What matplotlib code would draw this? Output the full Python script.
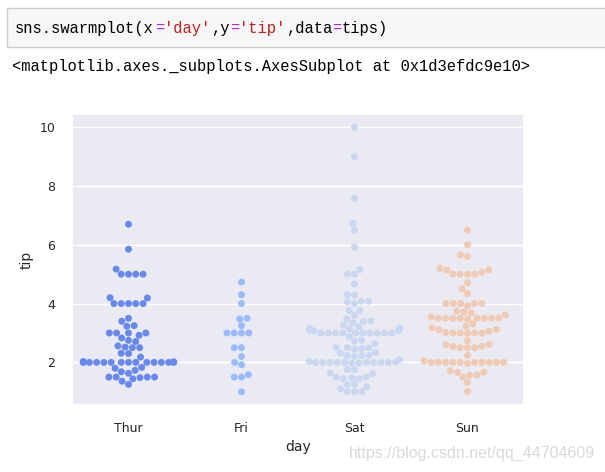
import matplotlib
matplotlib.use("Agg")
import matplotlib.pyplot as plt
import matplotlib.patches as mpatches
import seaborn as sns
import pandas as pd

# tips per day (tips dataset)
days = ["Thur", "Fri", "Sat", "Sun"]
tip_thur = [4.0, 3.0, 2.71, 3.0, 3.4, 1.83, 5.0, 2.03, 5.17, 2.0, 4.0, 5.85, 3.0,
            1.5, 1.8, 2.92, 2.31, 1.68, 2.5, 2.0, 2.52, 4.2, 1.48, 2.0, 2.0, 2.18,
            1.5, 2.83, 1.5, 2.0, 3.25, 1.25, 2.0, 2.0, 2.0, 2.75, 3.5, 6.7, 5.0,
            5.0, 2.3, 1.5, 1.36, 1.63, 1.73, 2.0, 4.19, 2.56, 2.02, 4.0, 1.44,
            2.0, 5.0, 2.0, 2.0, 4.0, 2.01, 2.0, 2.5, 4.0, 3.23, 3.0]
tip_fri = [3.0, 3.5, 1.0, 4.3, 3.25, 4.73, 4.0, 1.5, 3.0, 1.5, 2.5, 3.0,
           2.2, 3.48, 1.92, 3.0, 1.58, 2.5, 2.0]
tip_sat = [3.35, 4.08, 2.75, 2.23, 7.58, 3.18, 2.34, 2.0, 2.0, 4.3, 3.0, 1.45,
           2.5, 3.0, 2.45, 3.27, 3.6, 2.0, 3.07, 2.31, 5.0, 2.24, 3.0, 1.5, 1.76,
           6.73, 3.21, 2.0, 1.98, 3.76, 2.64, 3.15, 2.47, 1.0, 2.01, 2.09, 1.97,
           3.0, 3.14, 5.0, 2.2, 1.25, 3.08, 2.5, 3.48, 4.08, 1.64, 4.06, 4.29,
           3.76, 4.0, 3.0, 1.0, 1.61, 2.0, 10.0, 3.16, 3.41, 3.0, 2.03, 2.23, 2.0,
           5.16, 9.0, 2.5, 6.5, 1.1, 3.0, 1.5, 1.44, 3.09, 3.0, 2.72, 2.88, 2.0,
           3.0, 3.39, 1.47, 3.0, 1.25, 1.0, 1.17, 4.67, 5.92, 2.0, 2.0, 1.75]
tip_sun = [1.01, 1.66, 3.5, 3.31, 3.61, 4.71, 2.0, 3.12, 1.96, 3.23, 1.71, 5.0,
           1.57, 3.0, 3.02, 3.92, 1.67, 3.71, 3.5, 2.54, 3.06, 1.32, 5.6, 3.0,
           5.0, 6.0, 2.05, 3.0, 2.5, 2.6, 5.2, 1.56, 4.34, 3.51, 4.0, 2.55, 4.0,
           3.5, 5.07, 2.5, 2.0, 2.74, 2.0, 2.0, 5.14, 5.0, 3.75, 2.61, 2.0, 3.5,
           2.5, 2.0, 2.0, 3.0, 3.48, 2.24, 4.5, 5.15, 3.18, 4.0, 3.11, 2.0, 2.0,
           4.0, 3.55, 3.68, 5.65, 3.5, 6.5, 3.0, 5.0, 3.5, 2.0, 3.5, 4.0, 1.5]

tips = pd.DataFrame({
    "day": ["Thur"] * len(tip_thur) + ["Fri"] * len(tip_fri)
           + ["Sat"] * len(tip_sat) + ["Sun"] * len(tip_sun),
    "tip": tip_thur + tip_fri + tip_sat + tip_sun,
})
tips["day"] = pd.Categorical(tips["day"], categories=days, ordered=True)

sns.set_theme(style="darkgrid")
plt.rcParams['font.family'] = ['DejaVu Sans']

W, H = 605, 472
fig = plt.figure(figsize=(W / 100, H / 100), dpi=100)


def px(x, y):
    """pixel coords (from top-left) -> figure fraction"""
    return x / W, 1 - y / H


# ---- notebook code cell ----
x0, y0 = px(7, 47)
fig.patches.append(mpatches.Rectangle((x0, y0), (W - 6) / W, 39 / H,
                                      transform=fig.transFigure,
                                      facecolor="#f7f7f7", edgecolor="#cfcfcf",
                                      linewidth=1))

code_parts = [("sns.swarmplot(x", "#000000"), ("=", "#aa22ff"), ("'day'", "#ba2121"),
              (",y", "#000000"), ("=", "#aa22ff"), ("'tip'", "#ba2121"),
              (",data", "#000000"), ("=", "#aa22ff"), ("tips)", "#000000")]
fs_code = 11.2
cw = 0.6 * fs_code * 100 / 72  # char width in px
cx = 15
for txt, col in code_parts:
    fig.text(*px(cx, 28), txt, color=col, fontsize=fs_code,
             family="Liberation Mono", va="center", ha="left")
    cx += cw * len(txt)

fig.text(*px(12, 67), "<matplotlib.axes._subplots.AxesSubplot at 0x1d3efdc9e10>",
         fontsize=fs_code, family="Liberation Mono", va="center", ha="left",
         color="#000000")

# ---- swarm plot ----
l, b = px(72, 405)
ax = fig.add_axes([l, b, (524 - 72) / W, (405 - 114) / H])
palette = ["#6788ee", "#9abbff", "#c9d7f0", "#f1cab3"]
sns.swarmplot(x="day", y="tip", hue="day", data=tips, palette=palette,
              legend=False, size=5, ax=ax)
ax.set_yticks([2, 4, 6, 8, 10])
ax.tick_params(axis="both", labelsize=9, colors="#262626", pad=6)
ax.set_xlabel("day", fontsize=10, color="#262626")
ax.set_ylabel("tip", fontsize=10, color="#262626")

fig.text(*px(595, 453), "https://blog.csdn.net/qq_44704609", fontsize=11.5,
         color="#d9d9d9", ha="right", va="center", family="Liberation Sans")

fig.savefig("out.png", dpi=100)
